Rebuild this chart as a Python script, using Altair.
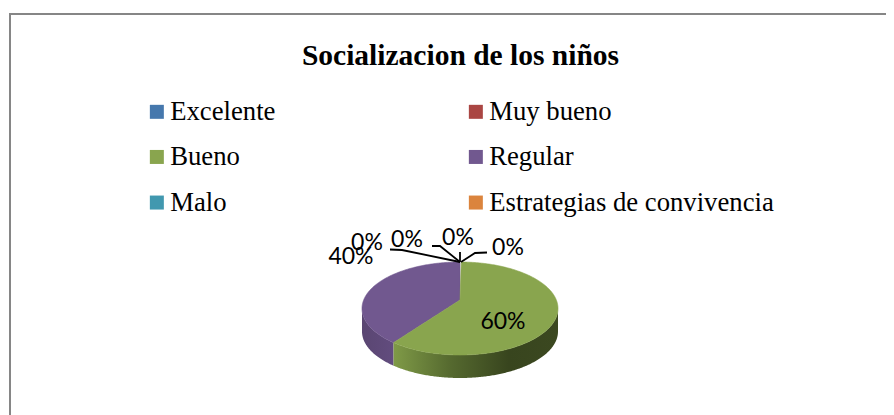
import math
import altair as alt
import pandas as pd

TITLE = "Socializacion de los niños"
categories = ["Excelente", "Muy bueno", "Bueno", "Regular", "Malo", "Estrategias de convivencia"]
shares = [0, 0, 60, 40, 0, 0]
colors = ["#4678AD", "#AA4643", "#89A54E", "#71588F", "#4198AF", "#DB843D"]

label_texts = ["40%", "0%", "0%", "0%", "0%", "60%"]
label_x = [351, 367, 407, 458, 508, 503]
label_y = [257, 243, 240, 238, 248, 322]

leader_id = [1, 1, 1, 2, 2, 2, 3, 3, 4, 4, 4]
leader_x = [390, 402, 460, 432, 440, 460, 460, 460, 487, 475, 461]
leader_y = [249.5, 250, 262, 246, 246, 262, 252, 262, 252.5, 253, 262]

# Pie geometry (page pixels), with the 3-D perspective of the original
CX, CY, RX, RY, DEPTH, PERSP = 460, 308.5, 98, 46.5, 23, 0.183


def project(t):
    x, y = math.sin(t), -math.cos(t)
    d = 1 - PERSP * y
    return (CX + RX * x * math.sqrt(1 - PERSP**2) / d, CY + RY * (y - PERSP) / d)


def top(x):
    return CY - RY * math.sqrt(max(0, 1 - ((x - CX) / RX) ** 2))


def bottom(x):
    return CY + RY * math.sqrt(max(0, 1 - ((x - CX) / RX) ** 2))


turn = sum(shares)
green_share = shares[2] / turn
bx, by = project(2 * math.pi * green_share)
ox, oy = CX, CY - PERSP * RY  # pie centre under perspective


def chord(x):
    return by + (oy - by) * (x - bx) / (ox - bx)


grid = sorted({CX - RX * math.cos(math.pi * i / 240) for i in range(241)} | {bx, ox})

rows = []
for x in grid:
    if x <= ox:
        rows.append(dict(cat="Regular", x=x, y=top(x), y2=bottom(x) if x <= bx else chord(x)))
    if x >= bx:
        rows.append(dict(cat="Bueno", x=x, y=chord(x) if x <= ox else top(x), y2=bottom(x)))
faces = pd.DataFrame(rows)
walls = pd.DataFrame([dict(x=x, y=bottom(x), y2=bottom(x) + DEPTH) for x in grid])

W, H = 878, 407
xs = alt.Scale(domain=[8, 8 + W], range=[0, W], nice=False, zero=False)
ys = alt.Scale(domain=[8, 8 + H], range=[0, H], nice=False, zero=False)
X = alt.X("x:Q", scale=xs, axis=None)
Y = alt.Y("y:Q", scale=ys, axis=None)


def gradient(stops):
    return alt.Gradient(
        gradient="linear", x1=0, x2=1, y1=0, y2=0,
        stops=[alt.GradientStop(offset=o, color=c) for o, c in stops],
    )


wall_purple = alt.Chart(walls[walls.x <= bx]).mark_area(
    color=gradient([(0, "#5A4672"), (1, "#624C7E")])
).encode(x=X, y=Y, y2="y2:Q")
wall_green = alt.Chart(walls[walls.x >= bx]).mark_area(
    color=gradient([(0, "#7F9A47"), (0.35, "#55692F"), (0.7, "#38451E"), (1, "#3B4820")])
).encode(x=X, y=Y, y2="y2:Q")

top_faces = alt.Chart(faces).mark_area(strokeWidth=0.6).encode(
    x=X, y=Y, y2="y2:Q",
    color=alt.Color(
        "cat:N",
        scale=alt.Scale(domain=categories, range=colors),
        legend=alt.Legend(
            title=None, orient="none", legendX=134, legendY=90,
            direction="horizontal", columns=2, symbolType="square", symbolSize=196,
            symbolOffset=1.5, symbolStrokeWidth=0, symbolOpacity=1, labelFont="Liberation Serif",
            labelFontSize=26.7, labelColor="#000000", labelOffset=0, labelLimit=500,
            columnPadding=185, rowPadding=17.6,
        ),
    ),
    stroke=alt.Color("cat:N", scale=alt.Scale(domain=categories, range=colors), legend=None),
)

leaders = alt.Chart(pd.DataFrame(dict(id=leader_id, x=leader_x, y=leader_y, o=range(len(leader_x))))).mark_line(
    color="#000000", strokeWidth=1.8
).encode(x=X, y=Y, detail="id:N", order="o:Q")

labels = alt.Chart(pd.DataFrame(dict(t=label_texts, x=label_x, y=label_y))).mark_text(
    font="Lato", fontSize=23, color="#000000", align="center", baseline="middle"
).encode(x=X, y=Y, text="t:N")

frame_h = alt.Chart(pd.DataFrame(dict(x=[9], x2=[8 + W], y=[14]))).mark_rule(
    color="#868686", strokeWidth=2
).encode(x=X, x2="x2:Q", y=Y)
frame_v = alt.Chart(pd.DataFrame(dict(x=[10], y=[13], y2=[8 + H]))).mark_rule(
    color="#868686", strokeWidth=2
).encode(x=X, y=Y, y2="y2:Q")

chart = (
    alt.layer(frame_h, frame_v, wall_purple, wall_green, top_faces, leaders, labels)
    .resolve_scale(x="shared", y="shared")
    .properties(
        width=W, height=H, padding=0,
        autosize=alt.AutoSizeParams(type="none"),
        background="#FFFFFF",
        title=alt.TitleParams(
            text=TITLE, font="Liberation Serif", fontSize=29.5, fontWeight="bold",
            color="#000000", anchor="middle", dx=13.5, offset=-63,
        ),
    )
    .configure_view(stroke=None)
)

chart.save("out.html", embed_options={"renderer": "svg", "actions": False})
